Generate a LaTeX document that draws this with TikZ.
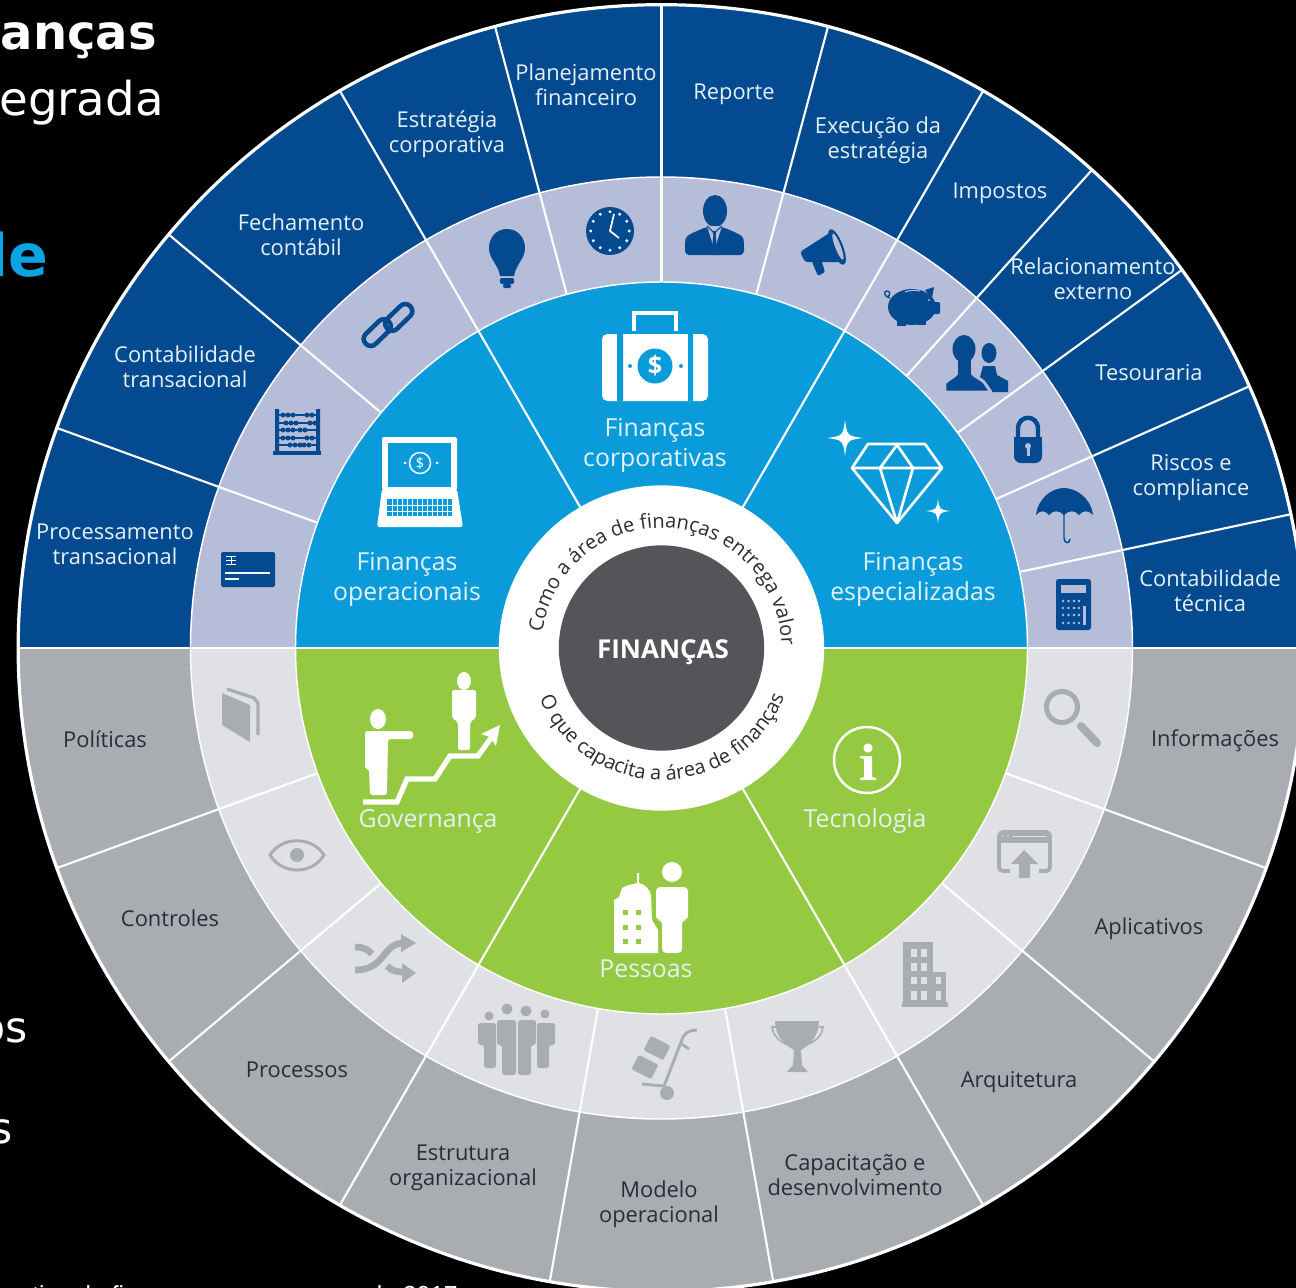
\documentclass[tikz,border=0pt]{standalone}
\usepackage{fontspec}
\setmainfont{Open Sans}
\newfontfamily\vfont{DejaVu Sans}
\newfontfamily\afont{Liberation Sans}
\usetikzlibrary{calc,decorations.text}
\definecolor{dbl}{HTML}{034A90}
\definecolor{peri}{HTML}{B6BDD9}
\definecolor{cyn}{HTML}{0A9CDA}
\definecolor{grn}{HTML}{95C942}
\definecolor{lgr}{HTML}{E0E1E4}
\definecolor{mgr}{HTML}{A9ACB1}
\definecolor{dgr}{HTML}{545558}
\definecolor{dtx}{HTML}{2A2D33}
\definecolor{ptx}{HTML}{E4F2F6}
\definecolor{hcy}{HTML}{0AA4E4}
\tikzset{
 lblbase/.style={align=center,inner sep=0pt,font=\fontsize{16.4}{18.75}\selectfont},
 tup/.style={lblbase,text=ptx},
 tdn/.style={lblbase,text=dtx},
 tmid/.style={align=center,inner sep=0pt,text=ptx,font=\fontsize{18.6}{22.5}\selectfont},
 spk/.style={draw=white,line width=1.6pt},
 ring/.style={draw=white,line width=1.1pt},
 gic/.style={fill=mgr},
 bic/.style={fill=dbl},
}
\newcommand\hsec[3]{\fill[#1] ($(c)+(#2:#3pt)$) arc (#2:#2+180:#3pt) -- cycle;}
\newcommand\spokes[3]{\foreach \a in {#3} {\draw[spk] ($(c)+(\a:#1pt)$) -- ($(c)+(\a:#2pt)$);}}
\newcommand\sparkle[3]{\fill[white] (#1,#2-#3) .. controls (#1+.12*#3,#2-.12*#3) .. (#1+#3,#2) .. controls (#1+.12*#3,#2+.12*#3) .. (#1,#2+#3) .. controls (#1-.12*#3,#2+.12*#3) .. (#1-#3,#2) .. controls (#1-.12*#3,#2-.12*#3) .. (#1,#2-#3) -- cycle;}
\begin{document}
\begin{tikzpicture}[x=0.75pt,y=-0.75pt]
\useasboundingbox (0,0) rectangle (1296,1288);
\clip (0,0) rectangle (1296,1288);
\fill[black] (0,0) rectangle (1296,1288);
\coordinate (c) at (661.5,648);
% outer ring
\hsec{dbl}{0}{482.5}
\hsec{mgr}{180}{482.5}
\spokes{353}{482.5}{12,24,36,48,60,75,90,105,120,140,160,200,220,240,260,280,300,320,340}
\draw[white,line width=2.4pt] (c) circle (482.5pt);
% middle ring
\hsec{peri}{0}{353.25}
\hsec{lgr}{180}{353.25}
\spokes{274}{353.25}{12,24,36,48,60,75,90,105,120,140,160,200,220,240,260,280,300,320,340}
\draw[ring] (c) circle (353.25pt);
% inner ring
\hsec{cyn}{0}{274.5}
\hsec{grn}{180}{274.5}
\spokes{120}{274.5}{60,120,240,300}
\draw[ring] (c) circle (274.5pt);
\draw[white,line width=1.5pt] ($(c)+(180:482.5pt)$) -- ($(c)+(0:482.5pt)$);
% centre
\fill[white] (c) circle (122pt);
\fill[dgr] (c) circle (77pt);
\node[inner sep=0pt,text=white,font=\fontsize{19.5}{22}\bfseries\selectfont] (centro) at (663,652) {FINANÇAS};
\path[decorate,decoration={text along path,text align=center,text={|\fontsize{15}{16}\selectfont\color{dtx}|Como a área de finanças entrega valor}}] ($(c)+(174:90pt)$) arc (174:0:90pt);
\path[decorate,decoration={text along path,text align=center,text={|\fontsize{15}{16}\selectfont\color{dtx}|O que capacita a área de finanças}}] ($(c)+(203:99pt)$) arc (203:338:99pt);
% left clipped texts
\node[anchor=base east,inner sep=0pt,text=white,font=\vfont\fontsize{36}{40}\bfseries\selectfont] (t1) at (157,50) {anças};
\node[anchor=base east,inner sep=0pt,text=white,font=\vfont\fontsize{35}{40}\selectfont] (t2) at (164,115) {egrada};
\node[anchor=base east,inner sep=0pt,text=hcy,font=\vfont\fontsize{44}{48}\bfseries\selectfont] (t3) at (49,276) {de};
\node[anchor=base east,inner sep=0pt,text=white,font=\vfont\fontsize{32}{36}\selectfont] (t4) at (28,1042) {os};
\node[anchor=base east,inner sep=0pt,text=white,font=\vfont\fontsize{32}{36}\selectfont] (t5) at (13,1143) {s};
\node[anchor=base west,inner sep=0pt,text=white,font=\afont\fontsize{18.5}{22}\selectfont] (t6) at (32,1303) {tiva de finanças};
\node[anchor=base east,inner sep=0pt,text=white,font=\afont\fontsize{18.5}{22}\selectfont] (t7) at (458,1303) {de 2017};
% outer labels
\node[tup] (a1) at (115,544) {Processamento\\transacional};
\node[tup] (a2) at (185,367) {Contabilidade\\transacional};
\node[tup] (a3) at (301,235) {Fechamento\\contábil};
\node[tup] (a4) at (447,134) {Estratégia\\corporativa};
\node[tup] (a5) at (586,85) {Planejamento\\financeiro};
\node[tup] (a6) at (734,94) {Reporte};
\node[tup] (a7) at (878,140) {Execução da\\estratégia};
\node[tup] (a8) at (1000,193) {Impostos};
\node[tup] (a9) at (1093,279) {Relacionamento\\externo};
\node[tup] (a10) at (1149,373) {Tesouraria};
\node[tup] (a11) at (1191,478) {Riscos e\\compliance};
\node[tup] (a12) at (1210,591) {Contabilidade\\técnica};
\node[tdn] (b1) at (105,739) {Políticas};
\node[tdn] (b2) at (170,918) {Controles};
\node[tdn] (b3) at (297,1070) {Processos};
\node[tdn] (b4) at (463,1168) {Estrutura\\organizacional};
\node[tdn] (b5) at (659,1204) {Modelo\\operacional};
\node[tdn] (b6) at (855,1175) {Capacitação e\\desenvolvimento};
\node[tdn] (b7) at (1019,1082) {Arquitetura};
\node[tdn] (b8) at (1149,929) {Aplicativos};
\node[tdn] (b9) at (1215,741) {Informações};
% inner labels
\node[tmid] (m1) at (407,579) {Finanças\\operacionais};
\node[tmid] (m2) at (655,445) {Finanças\\corporativas};
\node[tmid] (m3) at (913,579) {Finanças\\especializadas};
\node[tmid] (m4) at (428,821) {Governança};
\node[tmid] (m5) at (865,821) {Tecnologia};
\node[tmid] (m6) at (646,969) {Pessoas};
%% === blue icons ===
% card
\fill[bic,rounded corners=1.5pt] (221,552) rectangle (275,587);
\draw[white,line width=1pt] (225,573) -- (270,573);
\draw[white,line width=1pt] (225,579) -- (239,579);
\draw[white,line width=.7pt] (226,556) -- (236,556) (226,560) -- (236,560) (226,564) -- (236,564) (231,556) -- (231,564);
% abacus
\fill[bic] (275,409) rectangle (279,452) (316,409) rectangle (320,452);
\fill[bic] (273,451) rectangle (321,455);
\foreach \yy/\xa/\xb in {415/283/307,423/286/310,430/283/300,438/283/307,445/290/304} {
 \draw[dbl,line width=.9pt] (279,\yy) -- (316,\yy);
 \foreach \k in {0,5,10} {\fill[bic] (\xa+\k,\yy) circle (2.5);}
 \foreach \k in {0,5} {\fill[bic] (\xb+\k,\yy) circle (2.5);}
}
% chain
\begin{scope}[shift={(388,325)},rotate=44]
\draw[dbl,line width=3.4pt,rounded corners=5pt] (-29,-9) rectangle (3,5);
\draw[dbl,line width=3.4pt,rounded corners=5pt] (-3,-5) rectangle (29,9);
\end{scope}
% bulb
\fill[bic] (507,229) .. controls (496,229) and (489,238) .. (489,248) .. controls (489,259) and (498,264) .. (500,276) -- (514,276) .. controls (516,264) and (525,259) .. (525,248) .. controls (525,238) and (518,229) .. (507,229) -- cycle;
\fill[bic,rounded corners=1pt] (500,278) rectangle (514,284);
\fill[bic,rounded corners=1pt] (503,284) rectangle (511,288);
% clock
\fill[bic] (610,231) circle (24);
\foreach \a in {0,30,...,330} {\fill[white] ($(610,231)+(\a:14.5pt)$) circle (1.6);}
\draw[white,line width=1.3pt,line join=round] (614,214) -- (610,231) -- (619,238);
% businessman
\fill[bic] (715,211) ellipse [x radius=12,y radius=16];
\fill[bic,rounded corners=3pt] (685,255) -- (685,243) .. controls (686,235) and (695,232) .. (706,227) -- (723,227) .. controls (734,232) and (743,235) .. (744,243) -- (744,255) -- cycle;
\fill[peri] (707,226) -- (722,226) -- (716,245) -- (716,256) -- (713,256) -- (713,245) -- cycle;
\fill[bic] (712.5,231) -- (716.5,231) -- (715.7,235) -- (717.5,255) -- (711.5,255) -- (713.3,235) -- cycle;
\draw[dbl,line width=.8pt] (707,226) -- (714,233) -- (722,226);
% megaphone
\fill[bic,rounded corners=2pt] (800,252) -- (805,262) -- (840,262) -- (831,232) -- cycle;
\fill[bic,rounded corners=1pt] (812,262) -- (821,259) -- (825,272) -- (818,276) -- cycle;
\begin{scope}[shift={(837,247)},rotate=21]
\fill[bic] (0,0) ellipse [x radius=6,y radius=19];
\fill[peri] (1,0) ellipse [x radius=2.8,y radius=14];
\end{scope}
% piggy
\fill[bic] (912,307) ellipse [x radius=24,y radius=18];
\fill[bic] (925,290) -- (934,287) -- (932,298) -- cycle;
\fill[bic,rounded corners=1pt] (932,302) rectangle (940,314);
\fill[bic] (897,318) rectangle (906,326);
\fill[bic] (917,318) rectangle (926,325);
\draw[peri,line width=.8pt] (905,292) .. controls (910,290) and (916,290) .. (920,291);
\draw[dbl,line width=1pt] (890,298) .. controls (884,297) and (883,291) .. (887,291) .. controls (891,291) and (890,296) .. (888,296);
\fill[peri] (929,300) circle (1.2);
% two persons
\fill[bic] (989,353) ellipse [x radius=7.5,y radius=10];
\fill[bic] (976,392) -- (983,366) -- (995,366) -- (997,375) -- (1008,381) -- (1008,392) -- cycle;
\draw[peri,line width=2.2pt,fill=dbl,line join=round] (945,392) -- (945,383) .. controls (948,379) and (955,377) .. (957,373) -- (957,360) -- (972,360) -- (972,373) .. controls (975,377) and (981,379) .. (984,382) -- (991,392) -- cycle;
\fill[bic] (964,349) ellipse [x radius=11.5,y radius=14];
\fill[bic] (958,358) rectangle (971,376);
% lock
\draw[dbl,line width=3.3pt] (1018,438) -- (1018,429) .. controls (1018,414) and (1038,414) .. (1038,429) -- (1038,438);
\fill[bic,rounded corners=5pt] (1014,437) rectangle (1042,463);
\fill[bic] (1014,437) rectangle (1042,447);
\fill[peri] (1028,446) circle (3);
\fill[peri] (1026.5,447) rectangle (1029.5,456);
% umbrella
\fill[bic] (1036,515) .. controls (1038,498) and (1052,488) .. (1064,488) .. controls (1076,488) and (1091,498) .. (1093,515) .. controls (1088,510) and (1083,510) .. (1079,515) .. controls (1075,510) and (1069,510) .. (1064,515) .. controls (1059,510) and (1053,510) .. (1049,515) .. controls (1045,510) and (1040,510) .. (1036,515) -- cycle;
\draw[dbl,line width=1.1pt] (1064,512) -- (1064,538) .. controls (1064,544) and (1070,544) .. (1070,539);
% calculator
\fill[bic,rounded corners=2pt] (1056,579) rectangle (1091,630);
\fill[peri] (1061,585) rectangle (1086,593);
\foreach \xx in {1063,1068.5,1074,1079} {\foreach \yy in {601,608,615,623} {\fill[peri] (\xx,\yy) circle (1.4);}}
\fill[peri] (1083,606) rectangle (1086,625);
%% === white icons on blue ===
% briefcase
\draw[white,line width=2.4pt] (634,331) -- (634,313) -- (676,313) -- (676,331);
\fill[white,rounded corners=4pt] (602,334) rectangle (708,401);
\fill[cyn] (617,334) rectangle (623,401) (688,334) rectangle (693,401);
\fill[cyn] (655,366) circle (17.5);
\fill[cyn] (630,366) circle (2) (681,366) circle (2);
\node[inner sep=0pt,text=white,font=\fontsize{19}{20}\bfseries\selectfont] (cifrao) at (655,366) {\$};
% laptop
\fill[white,rounded corners=1.5pt] (382,437) rectangle (457,490);
\fill[cyn] (388,443) rectangle (451,487);
\fill[white,rounded corners=2pt] (382,489) -- (457,489) -- (463,527) -- (377,527) -- cycle;
\fill[cyn] (387,499) rectangle (453,516);
\foreach \xx in {392,397,...,452} {\draw[white,line width=.5pt] (\xx,499) -- (\xx,516);}
\foreach \yy in {505,511} {\draw[white,line width=.6pt] (387,\yy) -- (453,\yy);}
\draw[white,line width=1.1pt] (420,463) circle (10.5);
\fill[white] (405,463) circle (1.5) (437,463) circle (1.5);
\node[inner sep=0pt,text=white,font=\fontsize{11}{12}\selectfont] (cifrao2) at (420,463) {\$};
% diamond
\draw[white,line width=2pt,line join=round] (868,444) -- (925,444) -- (942,468) -- (897,523) -- (852,468) -- cycle;
\draw[white,line width=2pt,line join=round] (852,468) -- (942,468) (880,468) -- (897,445) -- (913,468) (880,468) -- (897,523) -- (913,468);
\sparkle{845}{438}{18}
\sparkle{938}{511}{12}
%% === green icons ===
% governance
\fill[white] (378,719) ellipse [x radius=8,y radius=10];
\fill[white,rounded corners=2pt] (365,731) -- (413,731) -- (413,739) -- (388,739) -- (387,795) -- (370,795) -- (369,769) -- (365,769) -- cycle;
\fill[white] (464,681) ellipse [x radius=7,y radius=9];
\fill[white,rounded corners=1.5pt] (452,690) -- (476,690) -- (476,718) -- (470,722) -- (470,750) -- (458,750) -- (458,722) -- (452,718) -- cycle;
\draw[white,line width=4pt,line join=miter] (363,802) -- (397,802) -- (407,779) -- (435,779) -- (450,756) -- (478,756) -- (491,738);
\fill[white] (500,725) -- (496,746) -- (490,737) -- (481,734) -- cycle;
% pessoas
\fill[white] (672,872) circle (10);
\fill[white,rounded corners=3pt] (656,887) -- (688,887) -- (688,920) -- (682,920) -- (682,953) -- (662,953) -- (662,920) -- (656,920) -- cycle;
\fill[white] (614,953) -- (614,900) -- (619,897) -- (622,888) .. controls (627,885) and (634,884) .. (637,883) -- (637,873) -- (639,873) -- (639,883) .. controls (645,884) and (650,890) .. (651,895) -- (652,920) -- (658,930) -- (658,953) -- cycle;
\foreach \xx in {625,638} {\foreach \yy in {912,927,941} {\fill[grn] (\xx-2.5,\yy-2.5) rectangle (\xx+2.5,\yy+2.5);}}
% info
\draw[white,line width=1.9pt] (867,760) circle (33);
\fill[white] (868,748) circle (4.6);
\fill[white] (860,756) -- (872,756) -- (872,777) -- (876,778) -- (876,780) -- (860,780) -- (860,778) -- (864,777) -- (864,759) -- (860,758) -- cycle;
%% === grey icons ===
% book
\fill[gic] (222,693) -- (250,705) -- (250,742) -- (222,725) -- cycle;
\draw[mgr,line width=2.4pt,line join=round] (227,689) -- (254,698) -- (258,703) -- (258,735);
% eye
\draw[mgr,line width=2.2pt] (270,855) .. controls (282,836) and (312,836) .. (324,855) .. controls (312,875) and (282,875) .. (270,855) -- cycle;
\fill[gic] (297,855) circle (7);
% shuffle
\draw[mgr,line width=5pt] (355,970) .. controls (385,970) and (382,945) .. (402,943);
\draw[mgr,line width=5pt] (355,947) .. controls (362,947) and (368,949) .. (372,954);
\draw[mgr,line width=5pt] (387,966) .. controls (392,971) and (397,972) .. (403,972);
\fill[gic] (416,943) -- (401,934) -- (401,952) -- cycle;
\fill[gic] (416,973) -- (402,963) -- (402,983) -- cycle;
% group
\foreach \xx/\yy/\rr in {489/1016/4.5,545/1014/4.5,507/1009/5.5,526/1011/5.5} {\fill[gic] (\xx,\yy) circle (\rr);}
\fill[gic,rounded corners=2pt] (478,1023) -- (496,1023) -- (496,1068) -- (484,1068) -- (484,1045) -- (478,1045) -- cycle;
\fill[gic,rounded corners=2pt] (555,1023) -- (537,1023) -- (537,1068) -- (549,1068) -- (549,1045) -- (555,1045) -- cycle;
\fill[gic,rounded corners=2pt] (497,1020) -- (516,1020) -- (516,1075) -- (502,1075) -- (502,1045) -- (497,1045) -- cycle;
\fill[gic,rounded corners=2pt] (518,1020) -- (536,1020) -- (536,1045) -- (531,1045) -- (531,1075) -- (518,1075) -- cycle;
% hand truck
\begin{scope}[shift={(657,1048)},rotate=-27]
\fill[gic,rounded corners=1pt] (-11,-8) rectangle (11,8);
\end{scope}
\begin{scope}[shift={(645,1067)},rotate=-27]
\fill[gic,rounded corners=1pt] (-11,-8) rectangle (11,8);
\end{scope}
\draw[mgr,line width=2.2pt,line join=round] (697,1030) .. controls (688,1030) and (685,1034) .. (683,1037) -- (664,1086) -- (642,1084);
\draw[mgr,line width=2pt] (680,1043) -- (689,1049);
\fill[gic] (667,1093) circle (7);
% trophy
\fill[gic] (775,1021) -- (819,1021) .. controls (819,1036) and (810,1045) .. (801,1050) -- (802,1065) -- (808,1072) -- (787,1072) -- (793,1065) -- (794,1050) .. controls (785,1045) and (775,1036) .. (775,1021) -- cycle;
\draw[mgr,line width=1.2pt] (776,1027) -- (772,1027) .. controls (773,1036) and (780,1042) .. (788,1045);
\draw[mgr,line width=1.2pt] (819,1027) -- (823,1027) .. controls (822,1036) and (815,1042) .. (806,1045);
% building
\fill[gic] (903,942) rectangle (933,1005);
\fill[gic] (933,972) rectangle (946,1005);
\fill[gic] (902,1002) rectangle (948,1006.5);
\foreach \xx in {911,921} {\foreach \yy/\yz in {949/957,963/971,977/984,991/1000} {\fill[lgr] (\xx,\yy) rectangle (\xx+6,\yz);}}
\foreach \yy/\yz in {977/984,991/1000} {\fill[lgr] (936,\yy) rectangle (941,\yz);}
% upload window
\draw[mgr,line width=2.8pt,rounded corners=3pt] (999,832) rectangle (1050,871);
\fill[gic] (999,832) rectangle (1050,843);
\fill[lgr] (1003,836) circle (.9) (1008,836) circle (.9);
\draw[lgr,line width=.7pt] (1012,836) -- (1046,836);
\fill[lgr] (1010,866) rectangle (1039,875);
\fill[gic] (1024,850) -- (1038,864) -- (1030,864) -- (1030,878) -- (1019,878) -- (1019,864) -- (1011,864) -- cycle;
% magnifier
\draw[mgr,line width=3.8pt] (1062,707) circle (15.5);
\draw[mgr,line width=6pt,line cap=round] (1081,726) -- (1097,743);
\end{tikzpicture}
\end{document}
